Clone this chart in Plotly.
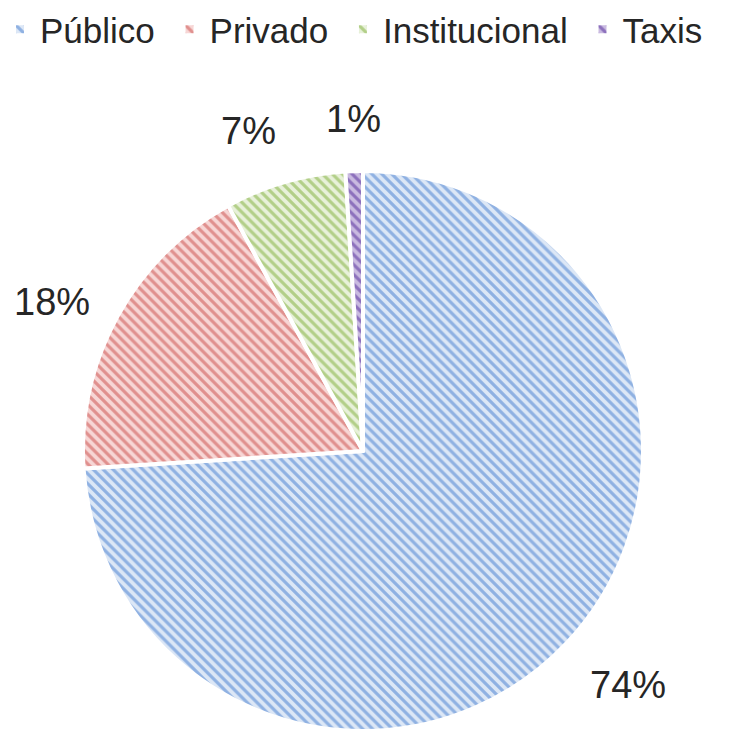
import math
import plotly.graph_objects as go

categories = ["Público", "Privado", "Institucional", "Taxis"]
values = [74, 18, 7, 1]
line_colors = ["#8FB1E2", "#E0908E", "#B2CF88", "#8C70BC"]
bg_colors = ["#DCE7F6", "#F7D6D5", "#E8F1DA", "#C9BAE0"]

W = H = 732
cx, cy, r = 363, 451, 280  # pixel geometry of the pie

FONT = "Liberation Sans Narrow, Arial Narrow, Liberation Sans, Arial, sans-serif"
TXT = "#262626"
LABEL_FS = 38
LEGEND_PAD = "\u00a0"  # extra spacing between legend entries

fig = go.Figure(go.Pie(
    labels=[c + LEGEND_PAD for c in categories],
    values=values,
    customdata=categories,
    sort=False,
    direction="clockwise",
    rotation=0,
    textinfo="none",
    hovertemplate="%{customdata}: %{percent}<extra></extra>",
    marker=dict(
        colors=line_colors,
        line=dict(color="white", width=4),
        pattern=dict(shape="\\", fgcolor=line_colors, bgcolor=bg_colors,
                     size=7, solidity=0.45, fillmode="replace"),
    ),
    domain=dict(x=[(cx - r) / W, (cx + r) / W],
                y=[max(0, (H - cy - r) / H), min(1, (H - cy + r) / H)]),
))

# percentage labels placed outside each slice ("outside end"), computed from the values
total = sum(values)
cum = 0
annotations = []
for v in values:
    mid = (cum + v / 2) / total * 2 * math.pi
    cum += v
    s, c = math.sin(mid), math.cos(mid)
    dist = r + 30
    px = cx + s * dist
    py = cy - c * dist
    xa = "left" if s > 0.15 else ("right" if s < -0.15 else "center")
    ya = "bottom" if c > 0.6 else ("top" if c < -0.6 else "middle")
    annotations.append(dict(
        x=px / W, y=1 - py / H, xref="paper", yref="paper",
        text=f"{round(v / total * 100)}%", showarrow=False,
        xanchor=xa, yanchor=ya, borderpad=0,
        font=dict(family=FONT, size=LABEL_FS, color=TXT),
    ))

fig.update_layout(
    width=W, height=H,
    margin=dict(l=0, r=0, t=0, b=0),
    paper_bgcolor="white",
    plot_bgcolor="white",
    showlegend=True,
    legend=dict(orientation="h", x=0.0, y=1.0, xanchor="left", yanchor="top",
                font=dict(family=FONT, size=35, color=TXT),
                itemwidth=30, traceorder="normal"),
    annotations=annotations,
)

fig.write_html("out.html", config={"displayModeBar": False},
               post_script="document.body.style.margin='0';")
